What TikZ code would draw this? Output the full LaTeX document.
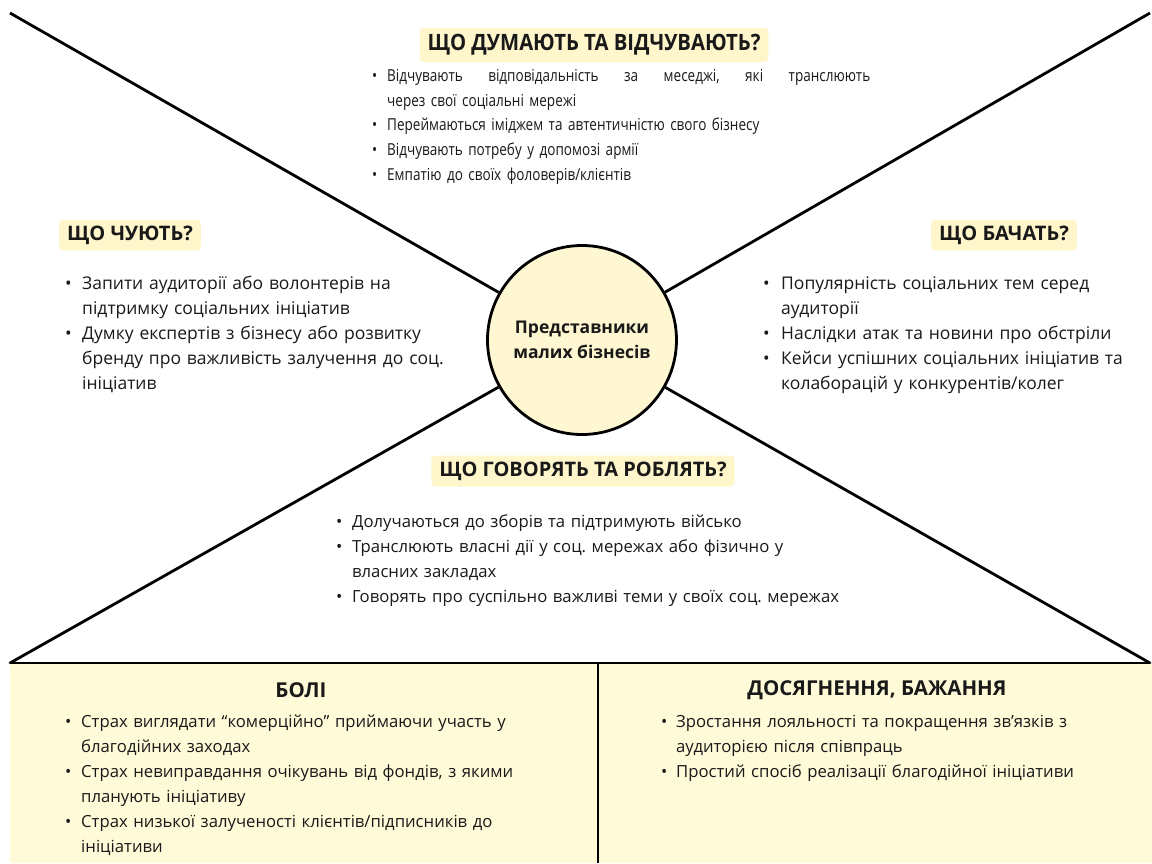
\documentclass[tikz,border=0pt]{standalone}
\usepackage{fontspec}
\setmainfont{Open Sans}
\newfontfamily\condfont{Open Sans}[FakeStretch=0.82]
\newfontfamily\condhead{Open Sans}[FakeStretch=0.9]
\definecolor{boxfill}{RGB}{255,250,216}
\definecolor{hlfill}{RGB}{255,246,204}
\definecolor{circfill}{RGB}{255,247,210}
\definecolor{ink}{RGB}{25,25,25}
\newlength\bind
\setlength\bind{17pt}
\newcommand\bitem[1]{\par\noindent\hangindent=\bind\hangafter=1\makebox[\bind][l]{•}\strut#1\par}
\tikzset{
  frame/.style={line width=2.8pt, draw=black},
  head/.style={font=\bfseries\fontsize{20}{24}\selectfont, text=ink, fill=hlfill, rounded corners=4pt, inner xsep=8pt, minimum height=31pt},
  bighead/.style={font=\bfseries\fontsize{20.5}{24}\selectfont, text=ink, inner sep=0pt},
  body/.style={anchor=north west, inner sep=0pt, text=ink, font=\fontsize{16.7}{25}\selectfont, execute at begin node={\raggedright\frenchspacing}},
  sidebody/.style={body, font=\fontsize{17.5}{25}\selectfont},
  condbody/.style={body, font=\condfont\fontsize{16.5}{24.7}\selectfont}
}
\begin{document}
\begin{tikzpicture}[x=1pt,y=-1pt]
\useasboundingbox (0,0) rectangle (1152,863);
\fill[white] (0,0) rectangle (1152,863);
% bottom panel
\fill[boxfill] (10,663) rectangle (1152,863);
\coordinate (tl) at (10,13);
\coordinate (tr) at (1150,13);
\coordinate (bl) at (10,663);
\coordinate (br) at (1150,663);
\coordinate (dtop) at (598,663);
\coordinate (dbot) at (598,863);
\node[circle, minimum size=189pt, fill=circfill, draw=black, line width=2.8pt, inner sep=0pt,
      align=center, font=\bfseries\fontsize{17.5}{25}\selectfont, text=ink] (c) at (582,340)
      {Представники\\малих бізнесів};
\draw[frame] (tl) -- (c);
\draw[frame] (tr) -- (c);
\draw[frame] (bl) -- (c);
\draw[frame] (br) -- (c);
\draw[frame, line cap=round] (bl) -- (br);
\draw[frame] (dtop) -- (dbot);

% top block
\node[head, font=\condhead\bfseries\fontsize{22.5}{26}\selectfont, minimum height=34pt] (hthink) at (594,45) {ЩО ДУМАЮТЬ ТА ВІДЧУВАЮТЬ?};
\setlength\bind{15pt}
\node[condbody, text width=520pt] (tthink) at (372,56.5) {%
\bitem{\hbox to 483pt{Відчувають\hfill відповідальність\hfill за\hfill меседжі,\hfill які\hfill транслюють}\newline через свої соціальні мережі}
\bitem{Переймаються іміджем та автентичністю свого бізнесу}
\bitem{Відчувають потребу у допомозі армії}
\bitem{Емпатію до своїх фоловерів/клієнтів}};

% left block
\node[head] (hhear) at (130,235) {ЩО ЧУЮТЬ?};
\node[sidebody, text width=420pt] (thear) at (65,264.5) {\setlength\bind{17pt}%
\bitem{Запити аудиторії або волонтерів на\newline підтримку соціальних ініціатив}
\bitem{Думку експертів з бізнесу або розвитку\newline бренду про важливість залучення до соц.\newline ініціатив}};

% right block
\node[head] (hsee) at (1004,235) {ЩО БАЧАТЬ?};
\node[sidebody, text width=400pt] (tsee) at (763,264.5) {\setlength\bind{18pt}%
\bitem{Популярність соціальних тем серед\newline аудиторії}
\bitem{Наслідки атак та новини про обстріли}
\bitem{Кейси успішних соціальних ініціатив та\newline колаборацій у конкурентів/колег}};

% bottom-middle block
\node[head] (hdo) at (583,471) {ЩО ГОВОРЯТЬ ТА РОБЛЯТЬ?};
\node[body, text width=560pt] (tdo) at (336,502.5) {\setlength\bind{16pt}%
\bitem{Долучаються до зборів та підтримують військо}
\bitem{Транслюють власні дії у соц. мережах або фізично у\newline власних закладах}
\bitem{Говорять про суспільно важливі теми у своїх соц. мережах}};

% pains
\node[bighead] (hpain) at (301,690) {БОЛІ};
\node[body, text width=520pt] (tpain) at (65,702.5) {\setlength\bind{16pt}%
\bitem{Страх виглядати “комерційно” приймаючи участь у\newline благодійних заходах}
\bitem{Страх невиправдання очікувань від фондів, з якими\newline планують ініціативу}
\bitem{Страх низької залученості клієнтів/підписників до\newline ініціативи}};

% gains
\node[bighead] (hgain) at (877,690) {ДОСЯГНЕННЯ, БАЖАННЯ};
\node[body, text width=480pt] (tgain) at (661,702.5) {\setlength\bind{15pt}%
\bitem{Зростання лояльності та покращення зв’язків з\newline аудиторією після співпраць}
\bitem{Простий спосіб реалізації благодійної ініціативи}};
\end{tikzpicture}
\end{document}
